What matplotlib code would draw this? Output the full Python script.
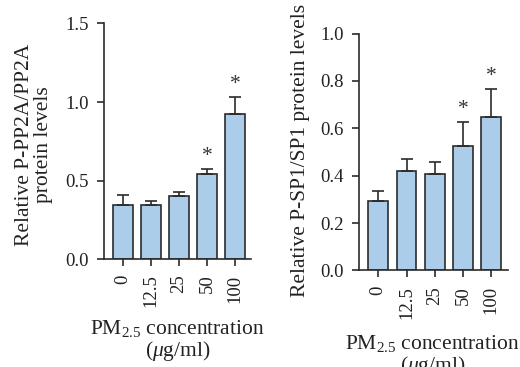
import numpy as np
import matplotlib
matplotlib.use("Agg")
import matplotlib.pyplot as plt

# data
concentrations = ["0", "12.5", "25", "50", "100"]
pp2a_mean = [0.345, 0.345, 0.40, 0.545, 0.925]
pp2a_err = [0.065, 0.028, 0.028, 0.028, 0.105]
pp2a_sig = [False, False, False, True, True]

sp1_mean = [0.292, 0.42, 0.406, 0.525, 0.646]
sp1_err = [0.045, 0.05, 0.05, 0.10, 0.121]
sp1_sig = [False, False, False, True, True]

plt.rcParams['font.family'] = ['Liberation Serif', 'DejaVu Serif']
plt.rcParams['mathtext.fontset'] = 'custom'
plt.rcParams['mathtext.rm'] = 'Liberation Serif'
plt.rcParams['mathtext.it'] = 'Liberation Serif:italic'

BAR_COLOR = '#abcdea'
EDGE = '#2b2b2b'
TICK_FS = 13.5
LABEL_FS = 15.5
XLABEL = 'PM$_{2.5}$ concentration\n($\\mathit{\\mu}$g/ml)'

fig = plt.figure(figsize=(5.2, 3.67), dpi=100)


def draw_panel(ax, means, errs, sig, ylim, yticks, ylabel):
    x = np.arange(len(concentrations))
    ax.bar(x, means, width=0.7, color=BAR_COLOR, edgecolor=EDGE, linewidth=1.2,
           yerr=[np.zeros(len(errs)), errs], capsize=4,
           error_kw=dict(ecolor=EDGE, elinewidth=1.2, capthick=1.2), zorder=2)
    for xi, m, e, s in zip(x, means, errs, sig):
        if s:
            ax.annotate('*', (xi, m + e), xytext=(0, 9), textcoords='offset points',
                        ha='center', va='center', fontsize=LABEL_FS, color='#333333')
    ax.set_ylim(*ylim)
    ax.set_xlim(-0.68, 4.57)
    ax.set_yticks(yticks)
    ax.set_yticklabels([f'{t:.1f}' for t in yticks])
    ax.set_xticks(x)
    ax.set_xticklabels(concentrations, rotation=90)
    for side in ['top', 'right']:
        ax.spines[side].set_visible(False)
    for side in ['left', 'bottom']:
        ax.spines[side].set_linewidth(1.2)
        ax.spines[side].set_color(EDGE)
    ax.tick_params(axis='both', labelsize=TICK_FS, length=5, width=1.2, color=EDGE,
                   pad=6, labelcolor='#222222')
    ax.set_ylabel(ylabel, fontsize=LABEL_FS, linespacing=1.0, color='#222222')
    ax.set_xlabel(XLABEL, fontsize=LABEL_FS, linespacing=1.0, color='#222222')


ax1 = fig.add_axes([0.2, 0.2935, 0.2827, 0.6425])
draw_panel(ax1, pp2a_mean, pp2a_err, pp2a_sig, (0, 1.5), [0.0, 0.5, 1.0, 1.5],
           'Relative P-PP2A/PP2A\nprotein levels')
ax1.yaxis.set_label_coords(-0.347, 0.485)
ax1.xaxis.set_label_coords(0.5, -0.25)

ax2 = fig.add_axes([0.6904, 0.263, 0.2856, 0.6457])
draw_panel(ax2, sp1_mean, sp1_err, sp1_sig, (0, 1.0), [0.0, 0.2, 0.4, 0.6, 0.8, 1.0],
           'Relative P-SP1/SP1 protein levels')
ax2.yaxis.set_label_coords(-0.33, 0.505)
ax2.xaxis.set_label_coords(0.495, -0.265)

fig.savefig('out.png', dpi=100)
